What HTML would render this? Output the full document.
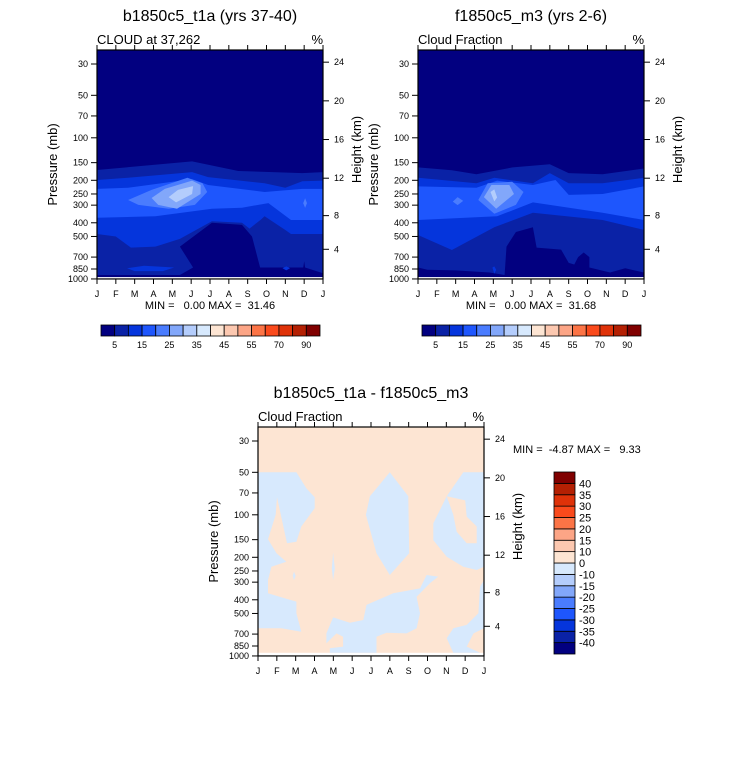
<!DOCTYPE html>
<html><head><meta charset="utf-8"><style>
html,body{margin:0;padding:0;background:#fff}
svg{display:block;font-family:"Liberation Sans",Arial,sans-serif}
text{white-space:pre}
</style></head><body>
<svg id="chart" width="733" height="766" viewBox="0 0 733 766" xmlns="http://www.w3.org/2000/svg"></svg>
<script>
const months = ["J","F","M","A","M","J","J","A","S","O","N","D","J"];
const pressureTicks = [30,50,70,100,150,200,250,300,400,500,700,850,1000];
const heightTicks = [24,20,16,12,8,4];
const cloudLevels = [5,10,15,20,25,30,35,40,45,50,55,60,70,80,90];
const cloudLevelLabels = ["5","15","25","35","45","55","70","90"];
const cmap = ["#020080","#0a22a6","#0535dc","#1e56fd","#4a7cfe","#82a7fa","#b4cdfc","#d7e9fd","#fde5d3","#fcc8b0","#fca586","#fc7446","#fa4a1c","#df3209","#b42003","#800000"];
const diffLevels = [-40,-35,-30,-25,-20,-15,-10,0,10,15,20,25,30,35,40];

// panel 1 contours: [month index, pressure mb]
const p1Level5 = [[0,169],[5.05,147],[7.5,172],[10.9,178],[12,175],[12,910],[11.05,830],[11,750],[10.95,830],[8.66,830],[8.23,500],[7.7,414],[6.1,400],[4.4,590],[5.1,830],[4.4,937],[0,937]];
const p1Level10 = [[0,199],[1.65,192],[5.05,175],[5.9,190],[8.9,210],[10,226],[10.9,203],[12,201],[12,480],[10.3,480],[10,450],[8.9,360],[8.7,380],[8.1,440],[7.7,400],[6.1,390],[4.4,520],[3.1,590],[1.8,600],[1,500],[0,480]];
const p1Level10b = [[1.6,840],[2.5,805],[4.1,830],[3.5,880],[2,880]];
const p1Level10c = [[9.85,840],[10.05,815],[10.25,840],[10.05,870]];
const p1Level15 = [[0,230],[1.65,226],[5.05,196],[5.9,216],[8.9,242],[10.9,230],[12,230],[12,382],[10.3,382],[9.1,290],[7.7,313],[6.1,318],[3.1,360],[0,368]];
const p1Level20 = [[1.65,276],[2.9,234],[4.8,192],[5.6,210],[5.85,242],[5.2,299],[3.8,318],[2.2,299]];
const p1Level20b = [[10.95,290],[11.05,268],[11.15,290],[11.05,314]];
const p1Level25 = [[2.9,267],[3.6,230],[5.05,201],[5.5,216],[5.5,250],[4.25,318],[3.25,299]];
const p1Level30 = [[3.8,263],[4.3,234],[5.1,220],[5.05,250],[4.2,287]];

// panel 2 contours
const p2Level5 = [[0,162],[1.8,170],[3.1,181],[5.03,162],[7,154],[8,178],[9.8,181],[12,165],[12,900],[11,840],[10.2,900],[9.1,830],[9.1,700],[8.8,650],[8.5,700],[8.3,790],[8,770],[7.6,620],[6.3,600],[6.1,430],[5.2,465],[4.7,590],[4.6,937],[3.8,900],[2,870],[0.5,860],[0,830]];
const p2Level10 = [[0,192],[3.1,210],[4.05,192],[6.1,210],[7,178],[8,210],[9.8,210],[12,192],[12,449],[9.8,382],[6.1,340],[4.05,430],[1.8,624],[0,488]];
const p2Level10b = [[3.95,830],[4.05,815],[4.15,860],[4.05,920]];
const p2Level15 = [[0,221],[3.1,226],[4.2,201],[6.1,216],[7.3,199],[8,254],[9.8,250],[12,221],[12,382],[9.8,340],[6.1,287],[4.2,360],[0,382]];
const p2Level20 = [[3.2,276],[3.7,210],[5,205],[5.6,242],[5.2,299],[4.05,345]];
const p2Level20b = [[1.85,283],[2.1,263],[2.4,280],[2.1,300]];
const p2Level25 = [[3.5,263],[3.9,216],[4.85,216],[5.1,250],[4.15,318]];
const p2Level30 = [[3.85,242],[4.05,232],[4.2,265],[4.05,282]];

// difference panel
const dNegLeft = [[0,50],[2.04,50],[2.57,65],[3.01,75],[3.01,90],[2.3,121],[2.04,155],[1.54,159],[1.01,75],[0.94,100],[0.53,149],[0.98,187],[1.5,215],[0.71,233],[0.53,290],[0.53,360],[1.5,393],[2.04,412],[2.04,498],[2.3,673],[1.24,637],[0,637]];
const dNegCenter = [[7.0,50],[7.98,74],[8.03,187],[7.0,267],[6.29,187],[5.73,100],[5.94,74]];
const dNegRight = [[10.9,50],[12,50],[12,233],[11.61,246],[10.9,233],[10.02,198],[9.31,151],[9.31,115],[10.02,74]];
const dPosIsland = [[10.02,74],[11.0,79],[11.08,103],[11.61,121],[11.61,159],[11.08,159],[10.55,132],[10.37,100]];
const dNegLower = [[9.57,274],[8.95,267],[8.6,332],[7.18,360],[5.76,435],[5.59,556],[4.88,581],[3.99,533],[3.63,692],[3.63,814],[4.17,692],[4.52,730],[4.52,859],[3.81,882],[3.81,948],[6.29,948],[6.29,730],[6.83,684],[7.89,692],[8.42,637],[8.6,498],[8.42,381],[9.13,305]];
const dNegLowerRight = [[10.37,637],[11.08,603],[11.7,498],[11.79,323],[12,290],[12,637],[11.44,692],[11.08,859],[11.79,948],[10.37,948],[10.02,750]];
const dNegSliver1 = [[3.99,185],[4.08,240],[3.99,290],[3.92,240]];
const dNegSliver2 = [[1.91,253],[2.0,270],[1.91,290],[1.84,270]];

const NS = "http://www.w3.org/2000/svg";
const svg = document.getElementById("chart");
function el(tag, attrs, parent){
  const e = document.createElementNS(NS, tag);
  for (const k in attrs) e.setAttribute(k, attrs[k]);
  (parent||svg).appendChild(e);
  return e;
}
function txt(x,y,s,size,anchor,parent,rot){
  const t = el("text",{x:x,y:y,"font-size":size,"text-anchor":anchor||"middle",fill:"#000"},parent);
  if (rot) t.setAttribute("transform","rotate(-90 "+x+" "+y+")");
  t.textContent = s;
  return t;
}
function heightToP(z){
  if (z <= 11) return 1013.25*Math.pow(1 - z/44.33, 5.256);
  return 226.3*Math.exp(-(z-11)/6.34);
}

function makePanel(cfg){
  const g = el("g",{});
  
  
  const x0 = cfg.x0, W = 226, yb = cfg.y30;
  const xOf = m => x0 + m*W/12;
  const yOf = p => yb + 61.3*Math.log(p/30);
  const top = yb - 14, bottom = yOf(1000);
  const clipId = cfg.name + "-clip";
  const cp = el("clipPath",{id:clipId},g);
  el("rect",{x:x0,y:top,width:W,height:bottom-top},cp);
  const plot = el("g",{"clip-path":"url(#"+clipId+")"},g);
  const bg = el("rect",{x:x0,y:top,width:W,height:yOf(cfg.pBottom)-top,fill:cfg.bg},plot);
  
  
  cfg.polys.forEach(pp => {
    const pts = pp.pts.map(d => xOf(d[0]).toFixed(1)+","+yOf(d[1]).toFixed(1)).join(" ");
    const poly = el("polygon",{points:pts,fill:pp.color},plot);
    
    
  });
  el("rect",{x:x0,y:top,width:W,height:bottom-top,fill:"none",stroke:"#000","stroke-width":1.2},g);
  pressureTicks.forEach(p => {
    const y = yOf(p);
    el("line",{x1:x0-6,x2:x0,y1:y,y2:y,stroke:"#000","stroke-width":1},g);
    const t = txt(x0-9,y+3,String(p),9,"end",g);
    
    
  });
  heightTicks.forEach(z => {
    const y = yOf(heightToP(z));
    el("line",{x1:x0+W,x2:x0+W+6,y1:y,y2:y,stroke:"#000","stroke-width":1},g);
    const t = txt(x0+W+11,y+3,String(z),9,"start",g);
    
    
  });
  months.forEach((m,i) => {
    const x = xOf(i);
    el("line",{x1:x,x2:x,y1:top-5,y2:top,stroke:"#000","stroke-width":1},g);
    el("line",{x1:x,x2:x,y1:bottom,y2:bottom+5,stroke:"#000","stroke-width":1},g);
    const t = txt(x,bottom+18,m,9,"middle",g);
    
    
  });
  let t = txt(x0+W/2,top-29,cfg.title,16,"middle",g);
  
  
  t = txt(x0,top-6,cfg.sub,13,"start",g);
  
  
  t = txt(x0+W,top-6,"%",13,"end",g);
  
  
  t = txt(x0-40,(top+bottom)/2,"Pressure (mb)",13,"middle",g,true);
  
  
  t = txt(x0+W+38,(top+bottom)/2-15,"Height (km)",13,"middle",g,true);
  
  
  return {xOf,yOf,top,bottom};
}

function hbar(x0){
  const g = el("g",{});
  
  
  const W = 219, bw = W/cmap.length;
  cmap.forEach((c,i) => {
    const r = el("rect",{x:x0+i*bw,y:325,width:bw,height:11,fill:c,stroke:"#000","stroke-width":0.8},g);
    
    
  });
  cloudLevelLabels.forEach((s,k) => {
    const t = txt(x0+(2*k+1)*bw,348,s,9,"middle",g);
    
    
  });
}

const c1 = cmap;
makePanel({name:"panel-b1850c5",x0:97,y30:64,title:"b1850c5_t1a (yrs 37-40)",sub:"CLOUD at 37,262",bg:c1[0],pBottom:970,polys:[
  {name:"contour-5",pts:p1Level5,color:c1[1]},
  {name:"contour-10",pts:p1Level10,color:c1[2]},
  {name:"contour-10-blob",pts:p1Level10b,color:c1[2]},
  {name:"contour-10-dot",pts:p1Level10c,color:c1[2]},
  {name:"contour-15",pts:p1Level15,color:c1[3]},
  {name:"contour-20",pts:p1Level20,color:c1[4]},
  {name:"contour-20-dot",pts:p1Level20b,color:c1[4]},
  {name:"contour-25",pts:p1Level25,color:c1[5]},
  {name:"contour-30",pts:p1Level30,color:c1[6]}]});
let m = txt(210,309,"MIN =   0.00 MAX =  31.46",11,"middle");


hbar(101);

makePanel({name:"panel-f1850c5",x0:418,y30:64,title:"f1850c5_m3 (yrs 2-6)",sub:"Cloud Fraction",bg:c1[0],pBottom:970,polys:[
  {name:"contour-5",pts:p2Level5,color:c1[1]},
  {name:"contour-10",pts:p2Level10,color:c1[2]},
  {name:"contour-10-blob",pts:p2Level10b,color:c1[2]},
  {name:"contour-15",pts:p2Level15,color:c1[3]},
  {name:"contour-20",pts:p2Level20,color:c1[4]},
  {name:"contour-20-diamond",pts:p2Level20b,color:c1[4]},
  {name:"contour-25",pts:p2Level25,color:c1[5]},
  {name:"contour-30",pts:p2Level30,color:c1[6]}]});
m = txt(531,309,"MIN =   0.00 MAX =  31.68",11,"middle");


hbar(422);

makePanel({name:"panel-difference",x0:258,y30:441,title:"b1850c5_t1a - f1850c5_m3",sub:"Cloud Fraction",bg:c1[8],pBottom:950,polys:[
  {name:"negative-left",pts:dNegLeft,color:c1[7]},
  {name:"negative-center",pts:dNegCenter,color:c1[7]},
  {name:"negative-right",pts:dNegRight,color:c1[7]},
  {name:"positive-island",pts:dPosIsland,color:c1[8]},
  {name:"negative-lower",pts:dNegLower,color:c1[7]},
  {name:"negative-lower-right",pts:dNegLowerRight,color:c1[7]},
  {name:"negative-sliver",pts:dNegSliver1,color:c1[7]},
  {name:"negative-speck",pts:dNegSliver2,color:c1[7]}]});
m = txt(513,453,"MIN =  -4.87 MAX =   9.33",11,"start");



const vg = el("g",{});


const vTop = 472, vH = 182, vbh = vH/cmap.length;
cmap.forEach((c,i) => {
  const r = el("rect",{x:554,y:vTop+(cmap.length-1-i)*vbh,width:21,height:vbh,fill:c,stroke:"#000","stroke-width":0.8},vg);
  
  
});
diffLevels.forEach((v,i) => {
  const y = vTop + (cmap.length-1-i)*vbh;
  const t = txt(579,y+4,String(v),11,"start",vg);
  
  
});
</script>
</body></html>
